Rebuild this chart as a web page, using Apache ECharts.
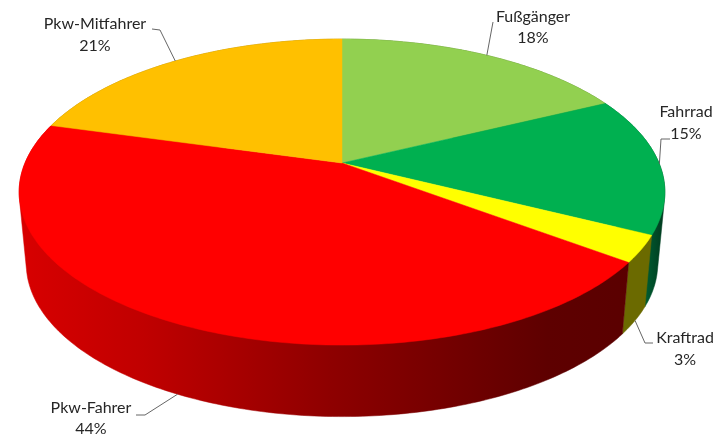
<!DOCTYPE html>
<html>
<head>
<meta charset="utf-8">
<style>html,body{margin:0;padding:0;background:#fff}#c{width:720px;height:437px}</style>
<script src="https://cdn.jsdelivr.net/npm/echarts@6/dist/echarts.min.js"></script>
</head>
<body>
<div id="c"></div>
<script>
// Data (unrounded shares; the labels round them, and the rounded labels add up to 101)
const categories = ['Fußgänger', 'Fahrrad', 'Kraftrad', 'Pkw-Fahrer', 'Pkw-Mitfahrer'];
const shares = [17.8, 14.6, 2.8, 44.1, 20.7];

// Styles
const topColors = ['#92d050', '#00b050', '#ffff00', '#ff0000', '#ffc000'];
const sideFills = [
  '#4f7a22',
  {type:'linear', x:644, y:0, x2:664, y2:0, global:true, colorStops:[{offset:0,color:'#005f33'},{offset:1,color:'#003a1e'}]},
  '#6b6a00',
  {type:'linear', x:20, y:0, x2:640, y2:0, global:true, colorStops:[
    {offset:0,color:'#d80000'},{offset:0.2,color:'#c00000'},{offset:0.5,color:'#8e0000'},
    {offset:0.85,color:'#5e0000'},{offset:1,color:'#5a0000'}]},
  '#a67c00'
];

// Projection of the tilted disc (perspective)
const CX = 342, TOP = {y0:163, a:317, b:147.5}, BOTTOM = {y0:234.5, a:310, b:147.5}, K = 0.19;
function project(share, plane){
  const t = share / 100 * 2 * Math.PI, X = Math.sin(t), Y = Math.cos(t), d = 1 + K * Y;
  return [CX + plane.a * X / d, plane.y0 - plane.b * Y / d];
}
function arc(s0, s1, plane){
  const pts = [], n = Math.max(2, Math.ceil((s1 - s0) * 4));
  for (let i = 0; i <= n; i++) pts.push(project(s0 + (s1 - s0) * i / n, plane));
  return pts;
}
// The visible wall of a wedge is the outline of its top and bottom rims
function hull(points){
  const p = points.slice().sort((a, b) => a[0] - b[0] || a[1] - b[1]);
  const cross = (o, a, b) => (a[0]-o[0])*(b[1]-o[1]) - (a[1]-o[1])*(b[0]-o[0]);
  const half = list => {
    const h = [];
    for (const q of list) {
      while (h.length >= 2 && cross(h[h.length-2], h[h.length-1], q) <= 0) h.pop();
      h.push(q);
    }
    h.pop();
    return h;
  };
  return half(p).concat(half(p.slice().reverse()));
}

// Label layout: text centres and leader-line knee points
const labelLayout = [
  {x:533, y:17,  lh:21, knee:[[493,22]]},
  {x:686, y:112, lh:22, knee:[[661,139],[670,139]]},
  {x:685, y:338, lh:22, knee:[[645,343],[653,343]]},
  {x:91,  y:408, lh:21, knee:[[145,415],[136,415]]},
  {x:95,  y:24,  lh:22, knee:[[160,30],[152,29]]}
];

let cum = 0;
const spans = shares.map((v, i) => { const r = [i, cum, cum + v, v]; cum += v; return r; });

function sideItem(params, api){
  const i = api.value(0), s0 = api.value(1), s1 = api.value(2);
  const pts = hull(arc(s0, s1, TOP).concat(arc(s0, s1, BOTTOM)));
  return {type:'polygon', shape:{points:pts}, style:{fill:sideFills[i], stroke:sideFills[i], lineWidth:0.5}, silent:true};
}
function topItem(params, api){
  const i = api.value(0), s0 = api.value(1), s1 = api.value(2);
  const pts = [[CX, TOP.y0]].concat(arc(s0, s1, TOP));
  return {type:'polygon', shape:{points:pts}, style:{fill:topColors[i], stroke:topColors[i], lineWidth:0.5}, silent:true};
}
function labelItem(params, api){
  const i = api.value(0), s0 = api.value(1), s1 = api.value(2), v = api.value(3);
  const mid = (s0 + s1) / 2, front = Math.cos(mid / 100 * 2 * Math.PI) < -0.1;
  const anchor = project(mid, front ? BOTTOM : TOP), L = labelLayout[i];
  const font = {fontFamily:'Lato, "Open Sans", sans-serif', fontSize:16, fill:'#262626', align:'center', verticalAlign:'middle'};
  return {type:'group', silent:true, children:[
    {type:'polyline', shape:{points:[anchor].concat(L.knee)}, style:{fill:null, stroke:'#666666', lineWidth:1}},
    {type:'text', x:L.x, y:L.y, style:Object.assign({text:categories[i]}, font)},
    {type:'text', x:L.x, y:L.y + L.lh, style:Object.assign({text:Math.round(v) + '%'}, font)}
  ]};
}

const chart = echarts.init(document.getElementById('c'), null, {renderer:'canvas'});
chart.setOption({
  animation:false,
  backgroundColor:'#ffffff',
  series:[
    {type:'custom', coordinateSystem:'none', renderItem:sideItem, data:spans, z:1},
    {type:'custom', coordinateSystem:'none', renderItem:topItem, data:spans, z:2},
    {type:'custom', coordinateSystem:'none', renderItem:labelItem, data:spans, z:3}
  ]
});
</script>
</body>
</html>
